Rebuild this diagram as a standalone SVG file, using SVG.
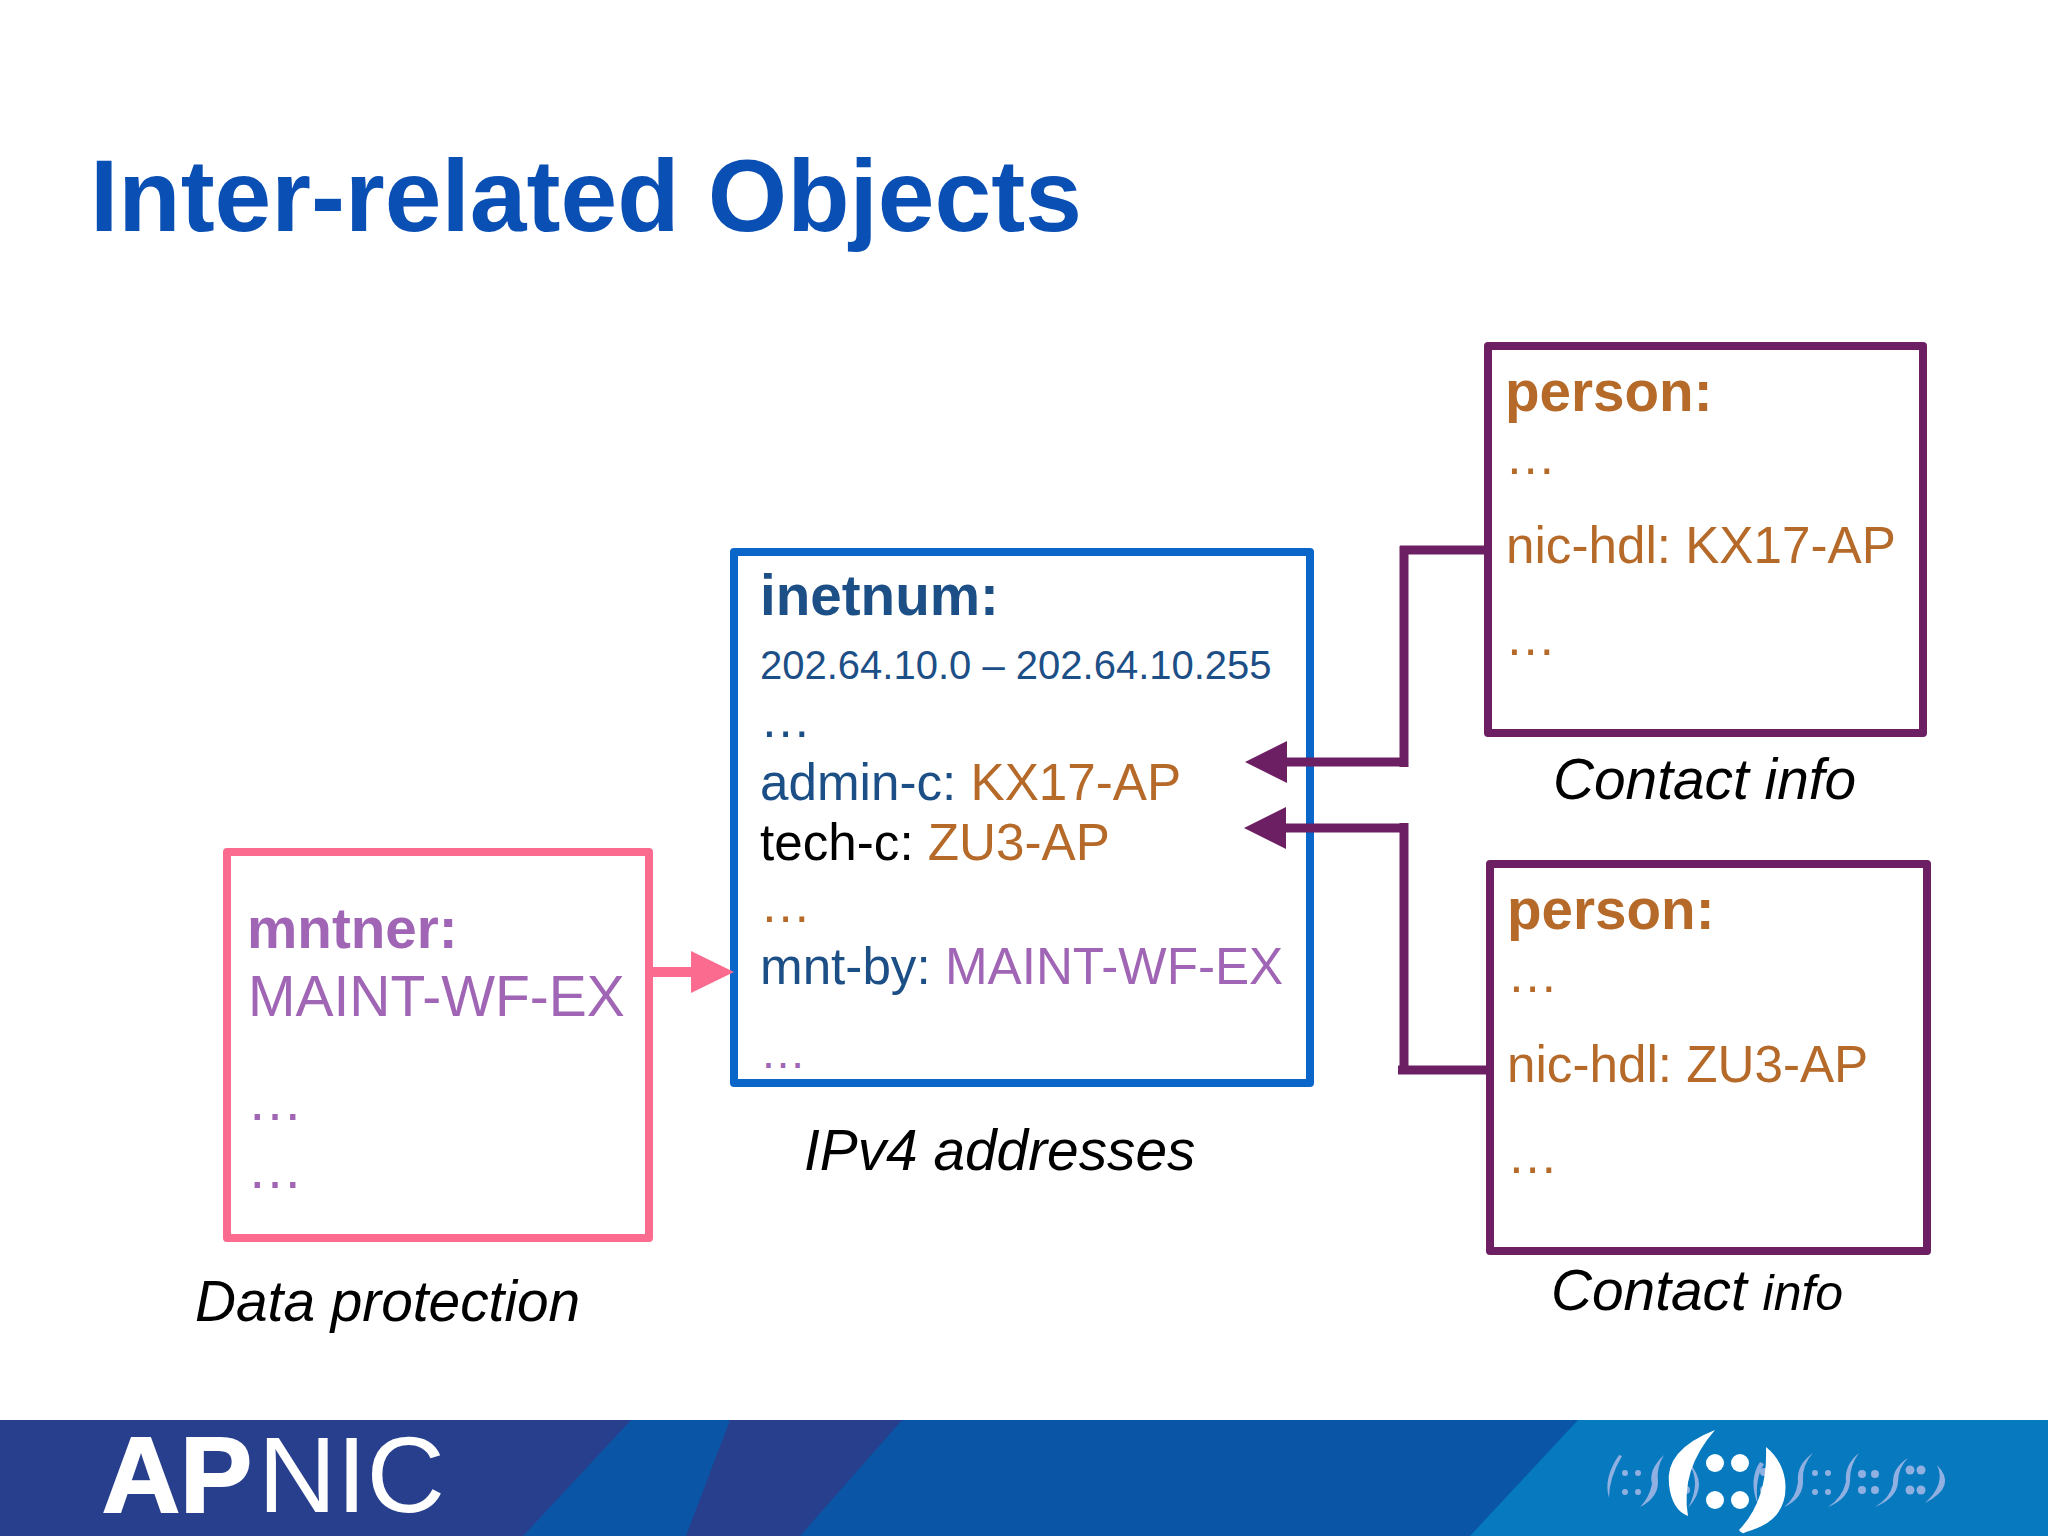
<svg xmlns="http://www.w3.org/2000/svg" width="2048" height="1536" viewBox="0 0 2048 1536">
<style>
text{font-family:"Liberation Sans",Arial,sans-serif}
.box{fill:none;stroke-width:8;stroke-linejoin:round}
.pur{stroke:#6d1f63;fill:none;stroke-width:9}
.lbl{font-size:56.8px;font-style:italic;fill:#000}
.t{font-size:51.2px}
.b{font-weight:bold;font-size:56.6px}
.navy{fill:#1d4f87}.or{fill:#b66a2a}.vi{fill:#a066b5}
</style>
<rect width="2048" height="1536" fill="#fff"/>
<g id="footer">
<rect y="1420" width="2048" height="116" fill="#283f8d"/>
<polygon points="523,1536 631,1420 730,1420 686,1536" fill="#0a55a5"/>
<polygon points="800,1536 902,1420 2048,1420 2048,1536" fill="#0a55a5"/>
<polygon points="1470,1536 1578,1420 2048,1420 2048,1536" fill="#0679bf"/>
<text x="102" y="1512" font-size="108" font-weight="bold" fill="#fff" stroke="#fff" stroke-width="2" textLength="150" lengthAdjust="spacingAndGlyphs">AP</text>
<text x="258" y="1512" font-size="108" fill="#fff" textLength="187" lengthAdjust="spacingAndGlyphs">NIC</text>
<g id="logo" fill="#8fb0e0">
<path d="M1619 1455Q1603 1478 1609 1498Q1609 1478 1622 1456Z"/>
<path d="M1664 1455Q1648 1470 1652 1484Q1649 1498 1640 1507Q1658 1498 1658 1482Q1656 1468 1664 1455Z"/>
<path d="M1688 1462Q1702 1482 1688 1508Q1710 1484 1688 1462Z"/>
<path d="M1760 1462Q1748 1480 1758 1505Q1754 1480 1764 1464Z"/>
<path d="M1813 1453Q1796 1465 1798 1482Q1796 1498 1784 1507Q1804 1498 1803 1480Q1802 1465 1813 1453Z"/>
<path d="M1859 1453Q1844 1465 1846 1482Q1842 1498 1828 1507Q1850 1498 1850 1480Q1850 1465 1859 1453Z"/>
<path d="M1908 1458Q1892 1468 1893 1484Q1890 1498 1875 1507Q1897 1498 1898 1482Q1898 1468 1908 1458Z"/>
<path d="M1937 1465Q1946 1484 1925 1503Q1958 1486 1937 1465Z"/>
<circle cx="1625" cy="1473" r="3"/><circle cx="1638" cy="1473" r="3"/><circle cx="1625" cy="1492" r="3"/><circle cx="1638" cy="1492" r="3"/>
<circle cx="1686" cy="1472" r="4"/><circle cx="1686" cy="1490" r="4"/>
<circle cx="1764" cy="1472" r="4"/><circle cx="1764" cy="1490" r="4"/>
<circle cx="1815" cy="1473" r="3"/><circle cx="1828" cy="1473" r="3"/><circle cx="1815" cy="1492" r="3"/><circle cx="1828" cy="1492" r="3"/>
<circle cx="1862" cy="1474" r="4"/><circle cx="1875" cy="1474" r="4"/><circle cx="1862" cy="1490" r="4"/><circle cx="1875" cy="1490" r="4"/>
<circle cx="1910" cy="1470" r="4.5"/><circle cx="1921" cy="1470" r="4.5"/><circle cx="1910" cy="1490" r="4.5"/><circle cx="1921" cy="1490" r="4.5"/>
</g>
<g fill="#fff">
<path d="M1715 1430Q1664 1450 1669 1485Q1672 1510 1688 1516Q1680 1470 1715 1430Z"/>
<path d="M1766 1447Q1768 1500 1739 1530Q1742 1535 1746 1532Q1790 1520 1785 1480Q1782 1460 1766 1447Z"/>
<circle cx="1715" cy="1463" r="9"/><circle cx="1740" cy="1463" r="9"/><circle cx="1715" cy="1500" r="9"/><circle cx="1740" cy="1500" r="9"/>
</g>
</g>
<text id="title" x="90" y="231" font-size="102" font-weight="bold" fill="#0a4fb3">Inter-related Objects</text>
<g id="inetnum">
<rect class="box" x="734" y="552" width="576" height="531" stroke="#0a66c8"/>
<text class="b navy" x="760" y="615">inetnum:</text>
<text class="navy" x="760" y="679" font-size="40">202.64.10.0 – 202.64.10.255</text>
<text class="t navy" x="760" y="737">…</text>
<text class="t navy" x="760" y="800">admin-c: <tspan class="or">KX17-AP</tspan></text>
<text class="t" x="760" y="860">tech-c: <tspan class="or">ZU3-AP</tspan></text>
<text class="t or" x="760" y="922">…</text>
<text class="t navy" x="760" y="984">mnt-by: <tspan class="vi">MAINT-WF-EX</tspan></text>
<text class="vi" x="760" y="1068" font-size="46">…</text>
</g>
<g id="mntner">
<rect class="box" x="227" y="852" width="422" height="386" stroke="#fb6b90"/>
<text class="b vi" x="247" y="948">mntner:</text>
<text class="vi" x="248" y="1016" font-size="57">MAINT-WF-EX</text>
<text class="vi" x="247" y="1120" font-size="56">…</text>
<text class="vi" x="247" y="1188" font-size="56">…</text>
</g>
<g id="person1">
<rect class="box" x="1488" y="346" width="435" height="387" stroke="#6d1f63"/>
<text class="b or" x="1505" y="411">person:</text>
<text class="t or" x="1505" y="474">…</text>
<text class="t or" x="1506" y="563">nic-hdl: KX17-AP</text>
<text class="t or" x="1505" y="655">…</text>
</g>
<g id="person2">
<rect class="box" x="1490" y="864" width="437" height="387" stroke="#6d1f63"/>
<text class="b or" x="1507" y="929">person:</text>
<text class="t or" x="1507" y="992">…</text>
<text class="t or" x="1507" y="1082">nic-hdl: ZU3-AP</text>
<text class="t or" x="1507" y="1173">…</text>
</g>
<g id="labels">
<text class="lbl" x="804" y="1170">IPv4 addresses</text>
<text class="lbl" x="195" y="1321">Data protection</text>
<text class="lbl" x="1553" y="799">Contact info</text>
<text class="lbl" x="1551" y="1310">Contact <tspan font-size="50">info</tspan></text>
</g>
<g id="connectors">
<path class="pur" d="M1400 550H1492M1404 546V767M1408 762H1287"/>
<polygon points="1245,762 1287,741 1287,783" fill="#6d1f63"/>
<path class="pur" d="M1398 1070H1490M1404 1074V823M1404 828H1286"/>
<polygon points="1244,828 1286,807 1286,849" fill="#6d1f63"/>
<path stroke="#fb6b90" stroke-width="10" d="M649 972H692" fill="none"/>
<polygon points="734,972 691,951 691,993" fill="#fb6b90"/>
</g>
</svg>
